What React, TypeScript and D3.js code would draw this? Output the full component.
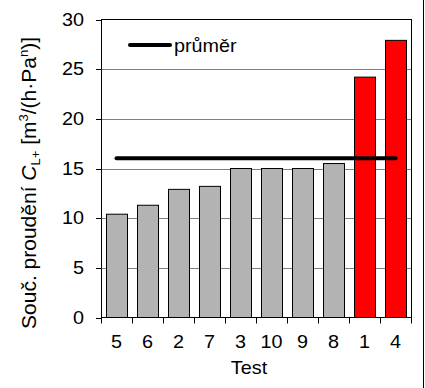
import { useEffect, useRef } from "react";
import * as d3 from "d3";

const tests = ["5", "6", "2", "7", "3", "10", "9", "8", "1", "4"];
const values = [10.4, 11.3, 12.9, 13.2, 15.0, 15.0, 15.0, 15.5, 24.2, 27.9];
const highlighted = ["1", "4"];
const yTicks = [0, 5, 10, 15, 20, 25, 30];

export default function App() {
  const ref = useRef<SVGSVGElement>(null);

  useEffect(() => {
    const svg = d3.select(ref.current);
    svg.selectAll("*").remove();
    const w = 425,
      h = 388,
      margin = { top: 19.5, right: 14, bottom: 70.5, left: 101 };
    const font = "'Liberation Sans', Arial, sans-serif";
    const fs = 18;
    const sx = 1.1;

    const label = (
      px: number,
      py: number,
      txt: string,
      anchor: string
    ) =>
      svg
        .append("text")
        .attr("transform", `translate(${px},${py}) scale(${sx},1)`)
        .attr("text-anchor", anchor)
        .attr("font-family", font)
        .attr("font-size", fs)
        .attr("fill", "#000")
        .text(txt);

    const x = d3
      .scaleBand()
      .domain(tests)
      .range([margin.left, w - margin.right])
      .paddingInner(0.32)
      .paddingOuter(0.16);
    const xb = d3
      .scaleBand()
      .domain(tests)
      .range([margin.left, w - margin.right]);

    const y = d3
      .scaleLinear()
      .domain([0, 30])
      .range([h - margin.bottom, margin.top]);

    const mean = d3.mean(values) || 0;

    // grid
    svg
      .append("g")
      .selectAll("line")
      .data(yTicks.filter((t) => t > 0 && t < 30))
      .join("line")
      .attr("x1", margin.left)
      .attr("x2", w - margin.right)
      .attr("y1", (d) => Math.round(y(d)) + 0.5)
      .attr("y2", (d) => Math.round(y(d)) + 0.5)
      .attr("stroke", "#808080")
      .attr("stroke-width", 1);

    // bars
    svg
      .append("g")
      .selectAll("rect")
      .data(tests.map((t, i) => [t, values[i]] as [string, number]))
      .join("rect")
      .attr("x", (d) => Math.round(x(d[0])!) + 0.5)
      .attr("y", (d) => y(d[1]))
      .attr("width", Math.round(x.bandwidth()))
      .attr("height", (d) => y(0) - y(d[1]))
      .attr("fill", (d) => (highlighted.includes(d[0]) ? "#ff0000" : "#b3b3b3"))
      .attr("stroke", "#000")
      .attr("stroke-width", 1);

    // plot border
    svg
      .append("rect")
      .attr("x", margin.left + 0.5)
      .attr("y", margin.top)
      .attr("width", w - margin.right - margin.left)
      .attr("height", h - margin.bottom - margin.top)
      .attr("fill", "none")
      .attr("stroke", "#000");

    // mean line
    svg
      .append("line")
      .attr("x1", xb(tests[0])! + xb.bandwidth() / 2)
      .attr("x2", xb(tests[tests.length - 1])! + xb.bandwidth() / 2)
      .attr("y1", y(mean))
      .attr("y2", y(mean))
      .attr("stroke", "#000")
      .attr("stroke-width", 4)
      .attr("stroke-linecap", "round");

    // y axis ticks + labels
    svg
      .append("g")
      .selectAll("line")
      .data(yTicks)
      .join("line")
      .attr("x1", margin.left - 5)
      .attr("x2", margin.left + 0.5)
      .attr("y1", (d) => Math.round(y(d)) + 0.5)
      .attr("y2", (d) => Math.round(y(d)) + 0.5)
      .attr("stroke", "#000");
    yTicks.forEach((t) => label(84, y(t) + 6.3, String(t), "end"));

    // x axis ticks + labels
    svg
      .append("g")
      .selectAll("line")
      .data([...tests.map((t) => xb(t)!), w - margin.right])
      .join("line")
      .attr("x1", (d) => Math.round(d) + 0.5)
      .attr("x2", (d) => Math.round(d) + 0.5)
      .attr("y1", h - margin.bottom)
      .attr("y2", h - margin.bottom + 6)
      .attr("stroke", "#000");
    tests.forEach((t) =>
      label(xb(t)! + xb.bandwidth() / 2, h - margin.bottom + 30, t, "middle")
    );

    label(249, 374, "Test", "middle");

    // y label
    const yl = svg
      .append("text")
      .attr("transform", `translate(36,183) rotate(-90)`)
      .attr("text-anchor", "middle")
      .attr("font-family", font)
      .attr("font-size", 21);
    yl.append("tspan").text("Souč. proudění ");
    yl.append("tspan").attr("font-style", "italic").text("C");
    yl.append("tspan").attr("font-size", 13).attr("dy", 4).text("L+");
    yl.append("tspan").attr("dy", -4).text(" [m");
    yl.append("tspan").attr("font-size", 13).attr("dy", -8).text("3");
    yl.append("tspan").attr("dy", 8).text("/(h·Pa");
    yl.append("tspan").attr("font-size", 13).attr("dy", -8).text("n");
    yl.append("tspan").attr("dy", 8).text(")]");

    // legend
    svg
      .append("line")
      .attr("x1", 130)
      .attr("x2", 170)
      .attr("y1", 45)
      .attr("y2", 45)
      .attr("stroke", "#000")
      .attr("stroke-width", 4)
      .attr("stroke-linecap", "round");
    label(174, 51.5, "průměr", "start");

    // right frame edge
    svg
      .append("line")
      .attr("x1", 423.5)
      .attr("x2", 423.5)
      .attr("y1", 0)
      .attr("y2", h)
      .attr("stroke", "#000");
  }, []);

  return (
    <svg
      ref={ref}
      width={425}
      height={388}
      style={{ position: "absolute", left: 0, top: 0, background: "#fff" }}
    />
  );
}
